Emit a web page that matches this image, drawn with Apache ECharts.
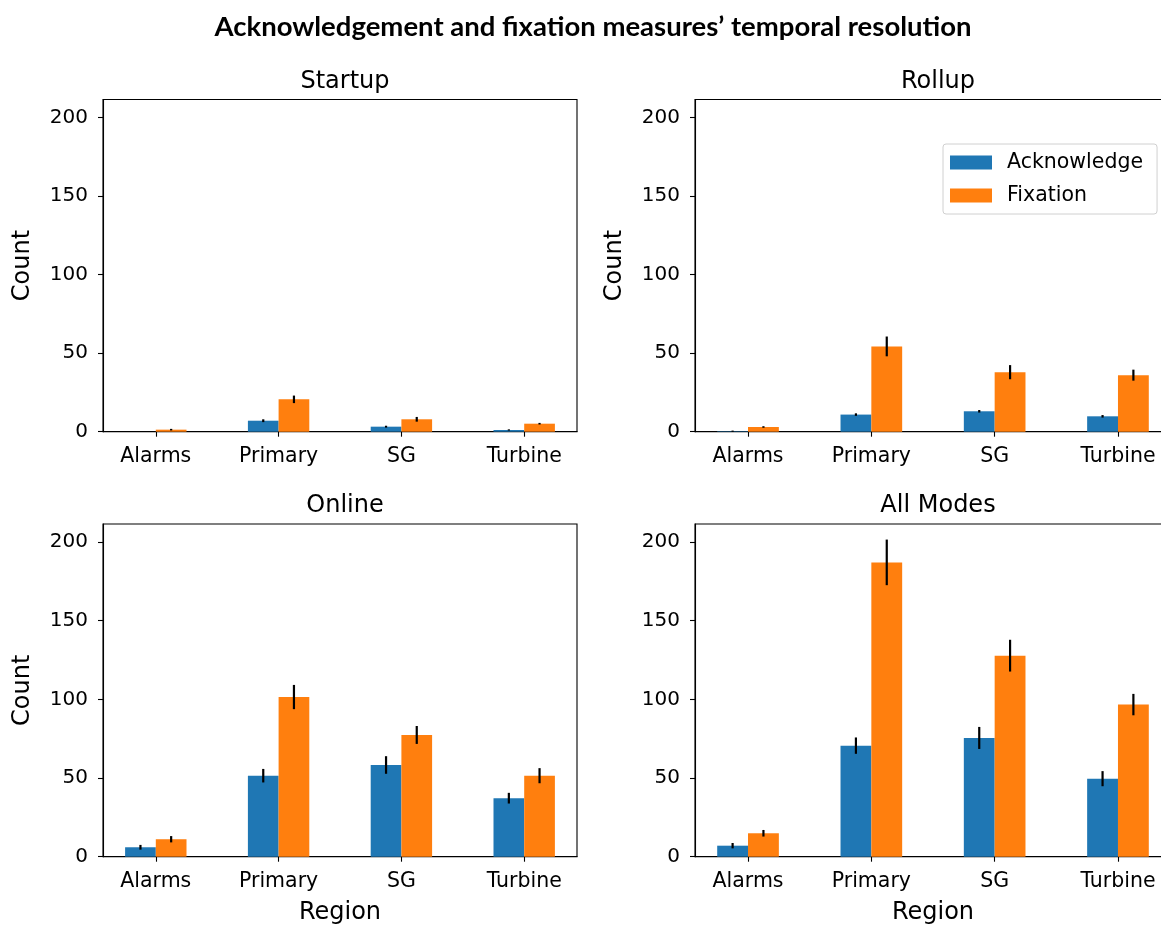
<!DOCTYPE html>
<html>
<head>
<meta charset="utf-8">
<script src="https://cdn.jsdelivr.net/npm/echarts@6/dist/echarts.min.js"></script>
<style>
html,body{margin:0;padding:0;background:#fff;}
#chart{width:1161px;height:926px;}
</style>
</head>
<body>
<div id="chart"></div>
<script>
// ---- data ----
const categories = ['Alarms', 'Primary', 'SG', 'Turbine'];
const panelTitles = ['Startup', 'Rollup', 'Online', 'All Modes'];
const yTicks = [0, 50, 100, 150, 200];

const startupAck = [0, 7.0, 3.2, 1.1];
const startupAckErr = [0, 0.9, 0.6, 0.4];
const startupFix = [1.3, 20.6, 7.9, 5.1];
const startupFixErr = [0.5, 2.4, 1.5, 0.5];

const rollupAck = [0.3, 10.9, 13.0, 9.8];
const rollupAckErr = [0.4, 0.8, 0.8, 0.8];
const rollupFix = [3.0, 54.3, 37.9, 36.0];
const rollupFixErr = [0.5, 6.3, 4.5, 3.5];

const onlineAck = [6.0, 51.5, 58.3, 37.2];
const onlineAckErr = [1.5, 4.3, 5.6, 3.4];
const onlineFix = [11.1, 101.5, 77.4, 51.5];
const onlineFixErr = [2.0, 7.7, 5.7, 4.8];

const allAck = [7.0, 70.6, 75.5, 49.6];
const allAckErr = [1.7, 5.2, 7.0, 4.8];
const allFix = [14.9, 187.1, 127.8, 96.7];
const allFixErr = [2.1, 14.5, 10.1, 6.8];

const panels = [
  {ack: startupAck, ackErr: startupAckErr, fix: startupFix, fixErr: startupFixErr},
  {ack: rollupAck, ackErr: rollupAckErr, fix: rollupFix, fixErr: rollupFixErr},
  {ack: onlineAck, ackErr: onlineAckErr, fix: onlineFix, fixErr: onlineFixErr},
  {ack: allAck, ackErr: allAckErr, fix: allFix, fixErr: allFixErr}
];

// ---- layout ----
const FONT = 'DejaVu Sans';
const BLUE = '#1f77b4', ORANGE = '#ff7f0e';
const BAR_W = 0.25;
const gridPos = [
  {left: 103, top: 99.5, width: 474, height: 332.2},
  {left: 695, top: 99.5, width: 476, height: 332.2},
  {left: 103, top: 524, width: 474, height: 332.7},
  {left: 695, top: 524, width: 476, height: 332.7}
];
const titleCenters = [340, 933, 340, 933];

const chart = echarts.init(document.getElementById('chart'), null, {renderer: 'canvas'});

const grids = [], xAxes = [], yAxes = [], series = [], titles = [];

titles.push({
  text: 'Acknowledgement and fixation measures\u2019 temporal resolution',
  left: 588, top: 8, textAlign: 'center',
  textStyle: {fontFamily: 'Lato', fontWeight: 'bold', fontSize: 27.5, color: '#000'}
});

function barRender(offset) {
  return function (params, api) {
    const x = api.value(0) + offset;
    const y = api.value(1);
    const p0 = api.coord([x - BAR_W / 2, y]);
    const p1 = api.coord([x + BAR_W / 2, 0]);
    return {
      type: 'rect',
      shape: {x: p0[0], y: p0[1], width: p1[0] - p0[0], height: p1[1] - p0[1]},
      style: {fill: api.visual('color')}
    };
  };
}
function errRender(offset) {
  return function (params, api) {
    const x = api.value(0) + offset;
    const lo = api.coord([x, api.value(1)]);
    const hi = api.coord([x, api.value(2)]);
    return {
      type: 'line',
      shape: {x1: lo[0], y1: lo[1], x2: hi[0], y2: hi[1]},
      style: {stroke: '#000', lineWidth: 2.2}
    };
  };
}

panels.forEach((p, i) => {
  const g = gridPos[i];
  grids.push(Object.assign({show: true, borderColor: '#000', borderWidth: 1.1,
    backgroundColor: 'transparent', containLabel: false, outerBoundsMode: 'none'}, g));
  titles.push({
    text: panelTitles[i],
    left: titleCenters[i], top: g.top - 35, textAlign: 'center',
    textStyle: {fontFamily: FONT, fontWeight: 'normal', fontSize: 24, color: '#000'}
  });
  const bottomRow = i >= 2;
  xAxes.push({
    type: 'value', gridIndex: i, min: -0.43, max: 3.43,
    name: bottomRow ? 'Region' : '', nameLocation: 'middle', nameGap: 44,
    nameTextStyle: {fontFamily: FONT, fontSize: 24, color: '#000'},
    axisLine: {show: true, onZero: false, lineStyle: {color: '#000', width: 1.1}},
    axisTick: {show: true, inside: false, length: 5, customValues: [0, 1, 2, 3], lineStyle: {color: '#000', width: 1.1}},
    axisLabel: {show: true, customValues: [0, 1, 2, 3], margin: 14,
      formatter: v => categories[Math.round(v)],
      fontFamily: FONT, fontSize: 20.5, color: '#000'},
    splitLine: {show: false}
  });
  const showYName = i !== 3;
  yAxes.push({
    type: 'value', gridIndex: i, min: 0, max: 211.5,
    name: showYName ? 'Count' : '', nameLocation: 'middle', nameGap: 68,
    nameTextStyle: {fontFamily: FONT, fontSize: 24, color: '#000'},
    axisLine: {show: true, onZero: false, lineStyle: {color: '#000', width: 1.1}},
    axisTick: {show: true, inside: false, length: 5, customValues: yTicks, lineStyle: {color: '#000', width: 1.1}},
    axisLabel: {show: true, customValues: yTicks, margin: 15,
      fontFamily: FONT, fontSize: 20, color: '#000'},
    splitLine: {show: false}
  });
  const ackData = categories.map((c, k) => [k, p.ack[k]]);
  const fixData = categories.map((c, k) => [k, p.fix[k]]);
  series.push({
    type: 'custom', name: 'Acknowledge', xAxisIndex: i, yAxisIndex: i,
    itemStyle: {color: BLUE}, renderItem: barRender(-BAR_W / 2), data: ackData, z: 2
  });
  series.push({
    type: 'custom', name: 'Fixation', xAxisIndex: i, yAxisIndex: i,
    itemStyle: {color: ORANGE}, renderItem: barRender(BAR_W / 2), data: fixData, z: 2
  });
  series.push({
    type: 'custom', xAxisIndex: i, yAxisIndex: i, z: 3,
    renderItem: errRender(-BAR_W / 2),
    data: categories.map((c, k) => [k, p.ack[k] - p.ackErr[k], p.ack[k] + p.ackErr[k]])
  });
  series.push({
    type: 'custom', xAxisIndex: i, yAxisIndex: i, z: 3,
    renderItem: errRender(BAR_W / 2),
    data: categories.map((c, k) => [k, p.fix[k] - p.fixErr[k], p.fix[k] + p.fixErr[k]])
  });
});

chart.setOption({
  animation: false,
  backgroundColor: '#fff',
  title: titles,
  legend: {
    data: ['Acknowledge', 'Fixation'],
    orient: 'vertical', left: 943, top: 144,
    icon: 'rect', itemWidth: 42, itemHeight: 14, itemGap: 12,
    padding: [8, 14, 8, 7],
    borderColor: '#d0d0d0', borderWidth: 1, borderRadius: 3,
    backgroundColor: '#fff',
    textStyle: {fontFamily: FONT, fontSize: 20.5, color: '#000', padding: [0, 0, 0, 10]}
  },
  grid: grids,
  xAxis: xAxes,
  yAxis: yAxes,
  series: series
});
</script>
</body>
</html>
